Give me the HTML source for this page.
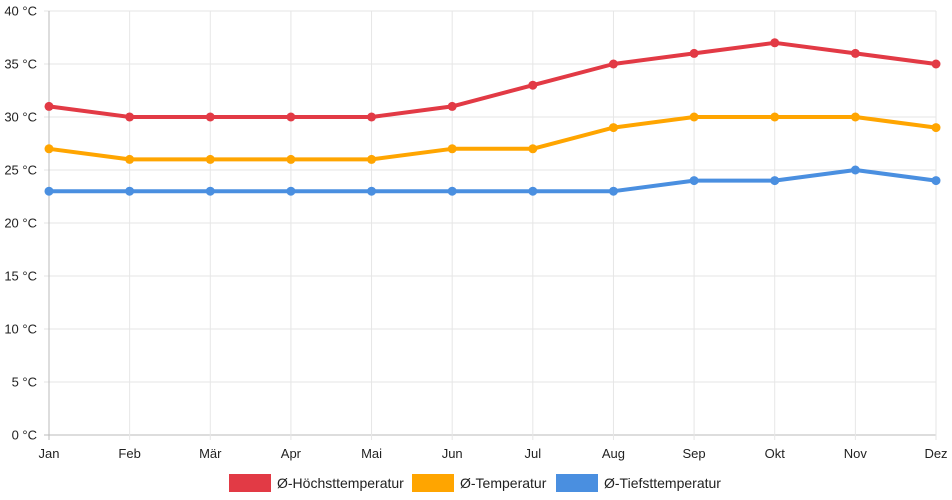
<!DOCTYPE html>
<html><head><meta charset="utf-8"><style>
html,body{margin:0;padding:0;background:#fff;}
svg{display:block;font-family:"Liberation Sans",sans-serif;}
</style></head><body>
<svg id="chart" width="952" height="500"></svg>
<script>
const months=["Jan","Feb","Mär","Apr","Mai","Jun","Jul","Aug","Sep","Okt","Nov","Dez"];
const highTemps=[31,30,30,30,30,31,33,35,36,37,36,35];
const avgTemps=[27,26,26,26,26,27,27,29,30,30,30,29];
const lowTemps=[23,23,23,23,23,23,23,23,24,24,25,24];
const yTicks=[0,5,10,15,20,25,30,35,40];
const seriesNames=["Ø-Höchsttemperatur","Ø-Temperatur","Ø-Tiefsttemperatur"];

const svg=document.getElementById('chart');
const NS='http://www.w3.org/2000/svg';
const x0=49,x1=936,y0=435,y1=11;
const xs=i=>x0+(x1-x0)*i/(months.length-1);
const ys=v=>y0-(y0-y1)*v/40;
function mk(t,a){const e=document.createElementNS(NS,t);for(const k in a)e.setAttribute(k,a[k]);svg.appendChild(e);return e;}

yTicks.forEach(v=>{
  const l=mk('line',{x1:x0-5,x2:x1,y1:ys(v),y2:ys(v),stroke:v===0?'#bbb':'#e6e6e6','stroke-width':1});
  
  
  const t=mk('text',{x:37,y:ys(v)+4.5,'text-anchor':'end','font-size':13,fill:'#222'});
  t.textContent=v+' °C';
  
  
});
months.forEach((m,i)=>{
  const l=mk('line',{x1:xs(i),x2:xs(i),y1:y1,y2:y0+5,stroke:i===0?'#bbb':'#e6e6e6','stroke-width':1});
  
  
  const t=mk('text',{x:xs(i),y:y0+23,'text-anchor':'middle','font-size':13,fill:'#222'});
  t.textContent=m;
  
  
});
const series=[[highTemps,'#e23a45','high'],[avgTemps,'#ffa500','avg'],[lowTemps,'#4a8fe0','low']];
series.forEach(([d,c,n])=>{
  const p=mk('polyline',{points:d.map((v,i)=>xs(i)+','+ys(v)).join(' '),fill:'none',stroke:c,'stroke-width':4,'stroke-linejoin':'round'});
  
  
  d.forEach((v,i)=>{
    const ci=mk('circle',{cx:xs(i),cy:ys(v),r:4.5,fill:c});
    
    
  });
});
const legX=[229,412,556];
series.forEach(([d,c,n],k)=>{
  const r=mk('rect',{x:legX[k],y:474,width:42,height:18,fill:c});
  
  
  const t=mk('text',{x:legX[k]+48,y:488,'font-size':14,fill:'#222'});
  t.textContent=seriesNames[k];
  
  
});
</script>
</body></html>
